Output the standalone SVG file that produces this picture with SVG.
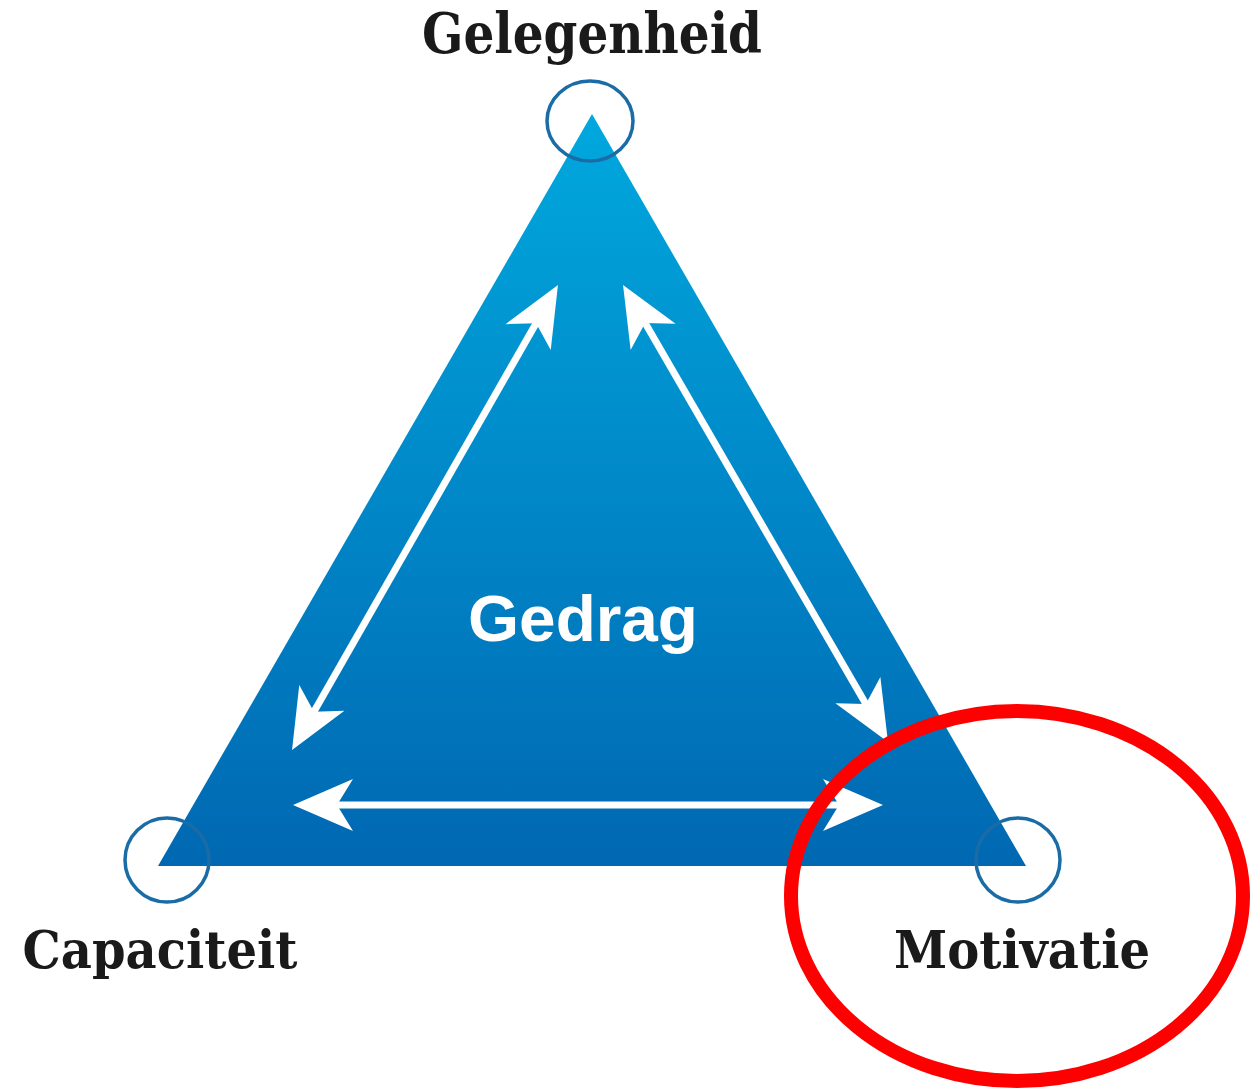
<svg xmlns="http://www.w3.org/2000/svg" width="1250" height="1088" viewBox="0 0 1250 1088">
<style>
.lbl{font-family:"DejaVu Serif","Liberation Serif",serif;font-weight:bold;fill:#1a1a1a}
.ring{fill:none;stroke:#1a6ca6;stroke-width:3.5}
.arr{stroke:#ffffff;stroke-width:7;fill:none;marker-start:url(#ah);marker-end:url(#ah)}
</style>
<defs>
<linearGradient id="tg" x1="0" y1="0" x2="0" y2="1">
<stop offset="0" stop-color="#00a8de"/>
<stop offset="0.5" stop-color="#0088c8"/>
<stop offset="1" stop-color="#0068b2"/>
</linearGradient>
<marker id="ah" markerUnits="userSpaceOnUse" markerWidth="70" markerHeight="60" viewBox="-62 -30 64 60" refX="-40" refY="0" orient="auto-start-reverse">
<path d="M0,0 L-60,-26 L-44,0 L-60,26 Z" fill="#ffffff"/>
</marker>
</defs>
<rect width="1250" height="1088" fill="#ffffff"/>
<g id="triangle">
<polygon points="592,114 158,866 1026,866" fill="url(#tg)"/>
<text x="583" y="641" text-anchor="middle" font-family="Liberation Sans, Arial, sans-serif" font-weight="bold" font-size="64" fill="#ffffff" textLength="230" lengthAdjust="spacingAndGlyphs">Gedrag</text>
</g>
<g id="gelegenheid">
<ellipse class="ring" cx="590" cy="121" rx="43" ry="40"/>
<text class="lbl" x="592" y="53" text-anchor="middle" font-size="56" textLength="340" lengthAdjust="spacingAndGlyphs">Gelegenheid</text>
</g>
<g id="capaciteit">
<circle class="ring" cx="167" cy="860" r="42"/>
<text class="lbl" x="160" y="968" text-anchor="middle" font-size="53" textLength="275" lengthAdjust="spacingAndGlyphs">Capaciteit</text>
</g>
<g id="motivatie">
<circle class="ring" cx="1018" cy="860" r="42"/>
<text class="lbl" x="1022" y="968" text-anchor="middle" font-size="53" textLength="256" lengthAdjust="spacingAndGlyphs">Motivatie</text>
</g>
<g id="connectors">
<line class="arr" x1="311.9" y1="715.3" x2="538.1" y2="319.7"/>
<line class="arr" x1="867.9" y1="707.4" x2="643.1" y2="319.6"/>
<line class="arr" x1="333" y1="805" x2="843" y2="805"/>
</g>
<g id="highlight">
<ellipse cx="1017" cy="896" rx="226" ry="185" fill="none" stroke="#ff0000" stroke-width="14"/>
</g>
</svg>
